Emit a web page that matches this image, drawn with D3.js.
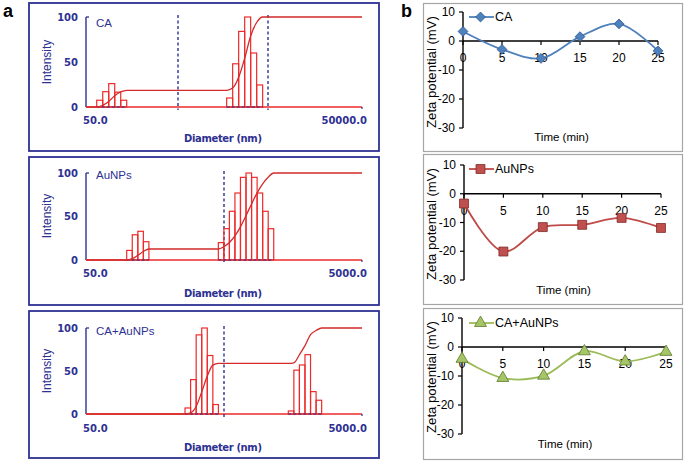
<!DOCTYPE html>
<html><head><meta charset="utf-8">
<script src="https://cdn.jsdelivr.net/npm/d3@7/dist/d3.min.js"></script>
<style>body{margin:0;background:#fff}svg{display:block}</style>
</head><body>
<svg id="c" width="685" height="463"></svg>
<script>
// ---------- DATA: DLS histograms (panel a) ----------
// lower edge (nm) of each bar, and bar heights (intensity %)
const caBinStarts   = [65.4, 76.0, 88.3, 102.6, 119.2, 1690, 1964, 2282, 2652, 3081, 3580];
const caHeights     = [7.5, 17, 26, 16.5, 7.5, 10, 48, 84, 100, 60, 24.5];
const caBinRatio    = 1.162;
const caClusters    = [5, 6];            // number of bars per cluster
const caMarkers     = [500, 4755];       // dashed marker lines (nm)

const auBinStarts   = [98.6, 108.2, 118.7, 130.2, 455, 499, 547, 600, 658, 722, 792, 869, 953, 1045];
const auHeights     = [11, 29, 33, 21, 20, 36, 56, 77, 95, 100, 95, 77, 56, 36];
const auBinRatio    = 1.097;
const auClusters    = [4, 10];
const auMarkers     = [500];

const mixBinStarts  = [261, 286.4, 314.3, 344.8, 378.4, 415.1, 1462, 1604, 1760, 1931, 2119, 2325];
const mixHeights    = [7, 40, 92, 100, 68, 11, 3.5, 51, 57, 69, 26, 16];
const mixBinRatio   = 1.097;
const mixClusters   = [6, 6];
const mixMarkers    = [500];

const dlsNames      = ["CA", "AuNPs", "CA+AuNPs"];
const dlsDomains    = [[50, 50000], [50, 5000], [50, 5000]];
const dlsTickLabels = [["50.0", "50000.0"], ["50.0", "5000.0"], ["50.0", "5000.0"]];
const intensityTicks = [0, 50, 100];

// ---------- DATA: Zeta potential (panel b) ----------
const timeMin   = [0, 5, 10, 15, 20, 25];
const zetaCA    = [3.3, -2.9, -6.0, 1.5, 5.9, -3.4];
const zetaAu    = [-3.4, -20.1, -11.6, -10.8, -8.4, -11.9];
const zetaMix   = [-4.1, -10.7, -9.9, -1.5, -5.0, -1.7];
const zetaTicks = [10, 0, -10, -20, -30];
const zetaNames = ["CA", "AuNPs", "CA+AuNPs"];

// ---------- LAYOUT ----------
const svg = d3.select("#c");
const NAVY = "#2e3192", RED = "#ee2a2a", CUM = "#d42a2a";

const leftLayout = [
  {frame:[29,3,379,151],   x:[86,362], y:[107,17],  tickY:120, titleY:138, nameY:23,  intY:62},
  {frame:[29,157,379,305], x:[86,362], y:[260,173], tickY:273, titleY:293, nameY:175, intY:216},
  {frame:[29,311,379,458], x:[86,362], y:[414,328], tickY:428, titleY:447, nameY:331, intY:371}
];
const dlsData = [
  {starts:caBinStarts,  h:caHeights,  r:caBinRatio,  cl:caClusters,  m:caMarkers},
  {starts:auBinStarts,  h:auHeights,  r:auBinRatio,  cl:auClusters,  m:auMarkers},
  {starts:mixBinStarts, h:mixHeights, r:mixBinRatio, cl:mixClusters, m:mixMarkers}
];

svg.append("text").attr("x",3).attr("y",17).text("a")
  .attr("font-family","Liberation Sans, Arial").attr("font-weight","bold").attr("font-size",18);
svg.append("text").attr("x",401).attr("y",17).text("b")
  .attr("font-family","Liberation Sans, Arial").attr("font-weight","bold").attr("font-size",18);

leftLayout.forEach((L, i) => {
  const D = dlsData[i];
  const g = svg.append("g");
  const [fx0, fy0, fx1, fy1] = L.frame;
  g.append("rect").attr("x",fx0).attr("y",fy0).attr("width",fx1-fx0).attr("height",fy1-fy0)
    .attr("fill","none").attr("stroke",NAVY).attr("stroke-width",1.8);

  const x = d3.scaleLog().domain(dlsDomains[i]).range(L.x);
  const y = d3.scaleLinear().domain([0,100]).range(L.y);

  // y axis
  g.append("line").attr("x1",L.x[0]).attr("x2",L.x[0]).attr("y1",y(100)).attr("y2",y(0))
    .attr("stroke",NAVY).attr("stroke-width",1.4);
  g.append("line").attr("x1",L.x[0]).attr("x2",L.x[0]+3).attr("y1",y(100)).attr("y2",y(100))
    .attr("stroke",NAVY).attr("stroke-width",1.3);
  intensityTicks.forEach(t => {
    g.append("text").attr("x",78).attr("y",y(t)).attr("text-anchor","end")
      .attr("dominant-baseline","central").attr("fill",NAVY)
      .attr("font-family","DejaVu Sans").attr("font-size",10).attr("font-weight","bold").text(t);
  });
  g.append("text").attr("transform",`translate(47,${L.intY}) rotate(-90)`)
    .attr("text-anchor","middle").attr("dominant-baseline","central").attr("fill",NAVY)
    .attr("font-family","Liberation Sans, Arial").attr("font-size",12).text("Intensity");

  // x axis labels
  g.append("text").attr("x",83).attr("y",L.tickY).attr("dominant-baseline","central")
    .attr("fill",NAVY).attr("font-family","DejaVu Sans").attr("font-size",10).attr("font-weight","bold")
    .text(dlsTickLabels[i][0]);
  g.append("text").attr("x",367).attr("y",L.tickY).attr("text-anchor","end").attr("dominant-baseline","central")
    .attr("fill",NAVY).attr("font-family","DejaVu Sans").attr("font-size",10).attr("font-weight","bold")
    .text(dlsTickLabels[i][1]);
  g.append("text").attr("x",(L.x[0]+L.x[1])/2-1).attr("y",L.titleY).attr("text-anchor","middle")
    .attr("dominant-baseline","central").attr("fill",NAVY)
    .attr("font-family","DejaVu Sans").attr("font-weight","bold").attr("font-size",10)
    .attr("textLength",78).attr("lengthAdjust","spacing").text("Diameter (nm)");
  g.append("text").attr("x",96).attr("y",L.nameY).attr("dominant-baseline","central").attr("fill",NAVY)
    .attr("font-family","Liberation Sans, Arial").attr("font-size",11.5).text(dlsNames[i]);

  // red baseline
  g.append("line").attr("x1",L.x[0]).attr("x2",L.x[1]).attr("y1",y(0)).attr("y2",y(0))
    .attr("stroke",RED).attr("stroke-width",1.5);
  g.append("line").attr("x1",L.x[1]).attr("x2",L.x[1]).attr("y1",y(0)).attr("y2",y(0)+2)
    .attr("stroke",NAVY).attr("stroke-width",1.2);

  // dashed markers
  D.m.forEach(v => {
    g.append("line").attr("x1",x(v)).attr("x2",x(v)).attr("y1",y(100)-2).attr("y2",y(0)+3)
      .attr("stroke",NAVY).attr("stroke-width",1.4).attr("stroke-dasharray","3,2.5");
  });

  // bars
  const bars = D.starts.map((s, k) => ({x0:s, x1:s*D.r, h:D.h[k]}));
  g.selectAll("rect.bar").data(bars).join("rect").attr("class","bar")
    .attr("x",d=>x(d.x0)).attr("width",d=>x(d.x1)-x(d.x0))
    .attr("y",d=>y(d.h)).attr("height",d=>y(0)-y(d.h))
    .attr("fill","none").attr("stroke",RED).attr("stroke-width",1.2);

  // blue dashed baseline under clusters
  let idx = 0;
  D.cl.forEach(n => {
    const a = bars[idx], b = bars[idx+n-1];
    g.append("line").attr("x1",x(a.x0)).attr("x2",x(b.x1)).attr("y1",y(0)).attr("y2",y(0))
      .attr("stroke",NAVY).attr("stroke-width",1.2).attr("stroke-dasharray","3,2");
    idx += n;
  });

  // cumulative curve derived from the bars
  const total = d3.sum(D.h);
  const pts = [[dlsDomains[i][0], 0]];
  let cum = 0; idx = 0;
  D.cl.forEach(n => {
    pts.push([bars[idx].x0, cum/total*100]);
    for (let k = idx; k < idx+n; k++) { cum += bars[k].h; pts.push([bars[k].x1, cum/total*100]); }
    idx += n;
  });
  pts.push([dlsDomains[i][1], 100]);
  g.append("path").datum(pts)
    .attr("d", d3.line().x(d=>x(d[0])).y(d=>y(d[1])).curve(d3.curveMonotoneX))
    .attr("fill","none").attr("stroke",CUM).attr("stroke-width",1.3);
});

// ---------- Right panels ----------
const rightLayout = [
  {frame:[423,3,682,151],   x:[463,658], y:[12,128],  timeY:137, zetaY:72,  legY:17},
  {frame:[423,154,682,304], x:[464,661], y:[165,280], timeY:290, zetaY:224, legY:169},
  {frame:[423,308,682,459], x:[462,666], y:[318,434], timeY:444, zetaY:377, legY:323}
];
const zetaSeries = [zetaCA, zetaAu, zetaMix];
const zetaStyles = [
  {line:"#4f81bd", fill:"#4f81bd", stroke:"#2f5a8f", sym:d3.symbolSquare, size:48, rot:45},
  {line:"#be4b48", fill:"#c0504d", stroke:"#7d2b28", sym:d3.symbolSquare, size:80, rot:0},
  {line:"#9bbb59", fill:"#a6c468", stroke:"#5e7a2a", sym:d3.symbolTriangle, size:62, rot:0}
];

rightLayout.forEach((L, i) => {
  const S = zetaStyles[i];
  const g = svg.append("g");
  const [fx0, fy0, fx1, fy1] = L.frame;
  g.append("rect").attr("x",fx0+0.5).attr("y",fy0+0.5).attr("width",fx1-fx0).attr("height",fy1-fy0)
    .attr("fill","none").attr("stroke","#a6a6a6").attr("stroke-width",1.2);

  const x = d3.scaleLinear().domain([0,25]).range(L.x);
  const y = d3.scaleLinear().domain([10,-30]).range(L.y);

  // y axis
  g.append("line").attr("x1",L.x[0]).attr("x2",L.x[0]).attr("y1",y(10)).attr("y2",y(-30))
    .attr("stroke","#000").attr("stroke-width",1.4);
  zetaTicks.forEach(t => {
    g.append("line").attr("x1",L.x[0]-4).attr("x2",L.x[0]).attr("y1",y(t)).attr("y2",y(t))
      .attr("stroke","#000").attr("stroke-width",1.2);
    g.append("text").attr("x",L.x[0]-8).attr("y",y(t)).attr("text-anchor","end")
      .attr("dominant-baseline","central").attr("font-family","Liberation Sans, Arial")
      .attr("font-size",12).text(t);
  });
  // x axis at 0
  g.append("line").attr("x1",L.x[0]).attr("x2",L.x[1]).attr("y1",y(0)).attr("y2",y(0))
    .attr("stroke","#000").attr("stroke-width",1.4);
  timeMin.forEach(t => {
    g.append("line").attr("x1",x(t)).attr("x2",x(t)).attr("y1",y(0)).attr("y2",y(0)+4)
      .attr("stroke","#000").attr("stroke-width",1.2);
    g.append("text").attr("x",x(t)).attr("y",y(0)+17).attr("text-anchor","middle")
      .attr("dominant-baseline","central").attr("font-family","Liberation Sans, Arial")
      .attr("font-size",12).text(t);
  });
  g.append("text").attr("x",(L.x[0]+L.x[1])/2+1).attr("y",L.timeY).attr("text-anchor","middle")
    .attr("dominant-baseline","central").attr("font-family","Liberation Sans, Arial")
    .attr("font-size",11.5).text("Time (min)");
  g.append("text").attr("transform",`translate(432,${L.zetaY}) rotate(-90)`)
    .attr("text-anchor","middle").attr("dominant-baseline","central")
    .attr("font-family","Liberation Sans, Arial").attr("font-size",12)
    .attr("textLength",112).attr("lengthAdjust","spacingAndGlyphs").text("Zeta potential (mV)");

  const data = timeMin.map((t,k)=>[t, zetaSeries[i][k]]);
  g.append("path").datum(data)
    .attr("d", d3.line().x(d=>x(d[0])).y(d=>y(d[1])).curve(d3.curveCatmullRom.alpha(0.5)))
    .attr("fill","none").attr("stroke",S.line).attr("stroke-width",1.8);
  const sym = d3.symbol().type(S.sym).size(S.size);
  g.selectAll("path.pt").data(data).join("path").attr("class","pt")
    .attr("transform",d=>`translate(${x(d[0])},${y(d[1])}) rotate(${S.rot})`).attr("d",sym)
    .attr("fill",S.fill).attr("stroke",S.stroke).attr("stroke-width",0.8);

  // legend
  const lx0 = 469, lx1 = 494;
  g.append("line").attr("x1",lx0).attr("x2",lx1).attr("y1",L.legY).attr("y2",L.legY)
    .attr("stroke",S.line).attr("stroke-width",1.8);
  g.append("path").attr("transform",`translate(${(lx0+lx1)/2-1},${L.legY}) rotate(${S.rot})`).attr("d",sym)
    .attr("fill",S.fill).attr("stroke",S.stroke).attr("stroke-width",0.8);
  g.append("text").attr("x",lx1+1).attr("y",L.legY).attr("dominant-baseline","central")
    .attr("font-family","Liberation Sans, Arial").attr("font-size",12.5).text(zetaNames[i]);
});
</script>
</body></html>
